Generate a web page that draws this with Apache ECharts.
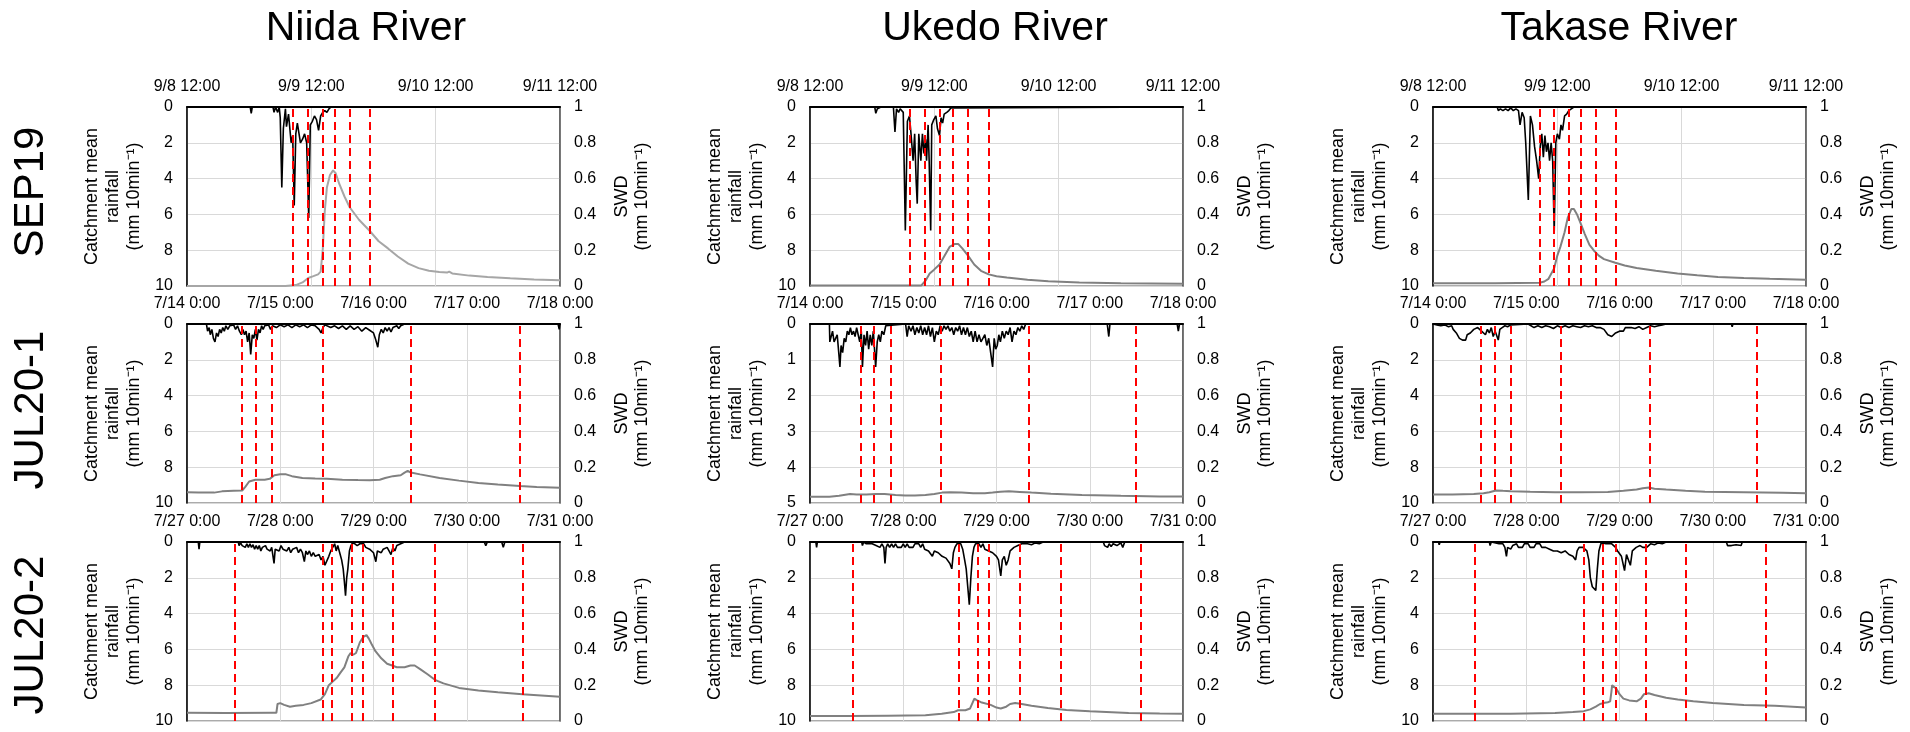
<!DOCTYPE html>
<html>
<head>
<meta charset="utf-8">
<script src="https://cdn.jsdelivr.net/npm/echarts@6/dist/echarts.min.js"></script>
<style>
  html, body { margin: 0; padding: 0; background: #fff; overflow: hidden; }
  #main { width: 1910px; height: 732px; }
</style>
</head>
<body>
<div id="main"></div>
<script>
// x values are hours from the first tick of each event
var rivers = ['Niida River', 'Ukedo River', 'Takase River'];
var events = ['SEP19', 'JUL20-1', 'JUL20-2'];
var ticksSep19 = ['9/8 12:00', '9/9 12:00', '9/10 12:00', '9/11 12:00'];
var ticksJul201 = ['7/14 0:00', '7/15 0:00', '7/16 0:00', '7/17 0:00', '7/18 0:00'];
var ticksJul202 = ['7/27 0:00', '7/28 0:00', '7/29 0:00', '7/30 0:00', '7/31 0:00'];

// ---- SEP19 ----
var rainNiidaSep = [[0,0],[12.2,0],[12.4,0.35],[12.6,0],[16.6,0],[16.8,0.3],[17.1,0],[17.5,0.3],[17.8,0],[18.0,0.6],[18.3,4.5],[18.6,1.2],[19.0,0.1],[19.2,1.1],[19.6,0.4],[20.1,2.0],[20.4,1.6],[20.7,5.5],[21.0,1.5],[21.3,0.9],[21.5,1.0],[21.9,2.0],[22.3,1.8],[22.7,1.5],[23.1,2.0],[23.5,6.2],[23.8,1.0],[24.2,0.8],[24.6,0.5],[25.0,0.7],[25.4,1.3],[25.8,0.5],[26.2,0.3],[26.6,0.2],[27.0,0.3],[27.4,0.1],[27.8,0],[72,0]];
var swdNiidaSep = [[0,0],[19,0],[21,0.005],[22.3,0.02],[23.4,0.045],[24.4,0.055],[25.3,0.065],[25.8,0.08],[26.2,0.2],[26.6,0.42],[27.0,0.55],[27.6,0.62],[28.2,0.646],[28.7,0.63],[29.4,0.57],[30.4,0.5],[31.4,0.44],[33.2,0.37],[35.2,0.31],[37,0.25],[38.8,0.21],[40.7,0.165],[42.7,0.125],[44.7,0.1],[46.7,0.085],[48.7,0.078],[50.2,0.075],[50.6,0.08],[51.2,0.07],[54.5,0.058],[58,0.05],[62.4,0.043],[67,0.037],[72,0.032]];
var cutNiidaSep = [20.5, 23.4, 26.2, 28.6, 31.4, 35.2];

var rainUkedoSep = [[0,0],[12.5,0],[12.7,0.35],[13.0,0.1],[13.3,0.2],[13.7,0],[16.1,0],[16.4,1.4],[16.7,0.1],[17.1,0.3],[17.4,0.1],[18.0,0.3],[18.4,6.9],[18.8,0.8],[19.2,0.5],[19.5,1.5],[19.9,3.0],[20.2,1.5],[20.5,4.2],[20.7,5.4],[21.0,1.5],[21.4,3.0],[21.7,1.5],[22.0,2.6],[22.3,1.8],[22.5,3.0],[22.8,1.0],[23.0,3.0],[23.3,6.9],[23.5,1.0],[23.9,0.7],[24.3,0.5],[24.6,1.2],[25.0,1.6],[25.3,0.6],[25.6,0.9],[25.9,0.4],[26.4,0.3],[26.8,0.2],[27.2,0.05],[27.4,0],[72,0]];
var swdUkedoSep = [[0,0.003],[21.5,0.003],[22.3,0.03],[23.1,0.07],[23.9,0.09],[25,0.12],[26,0.17],[27,0.22],[28,0.235],[28.6,0.235],[29.4,0.21],[30.5,0.17],[31.7,0.12],[33,0.085],[34.5,0.065],[36,0.055],[38,0.047],[42,0.035],[46,0.027],[52,0.02],[60,0.016],[72,0.012]];
var cutUkedoSep = [19.3, 22.2, 25.1, 27.5, 30.5, 34.5];

var rainTakaseSep = [[0,0],[12.4,0],[12.6,0.2],[13.0,0.1],[13.5,0.2],[14,0.1],[14.5,0.2],[15,0.05],[15.5,0.2],[16,0.1],[16.5,0.2],[16.8,1.0],[17.2,0.3],[17.6,0.6],[17.9,2.0],[18.4,5.2],[18.8,0.5],[19.2,1.0],[19.6,2.2],[20.0,3.0],[20.4,4.0],[20.7,2.2],[21.0,1.5],[21.3,2.8],[21.6,1.6],[21.9,2.5],[22.2,2.0],[22.5,3.0],[22.8,2.0],[23.1,3.0],[23.4,7.0],[23.7,2.0],[24.0,1.5],[24.4,1.8],[24.7,1.0],[25.0,1.3],[25.4,0.5],[25.8,0.4],[26.2,0.2],[26.7,0.1],[27.2,0],[72,0]];
var swdTakaseSep = [[0,0.015],[12,0.015],[20.6,0.018],[21.5,0.025],[22.3,0.04],[23.4,0.1],[24,0.17],[24.6,0.22],[25.4,0.3],[26.0,0.38],[26.7,0.43],[27.2,0.43],[27.8,0.4],[28.5,0.35],[29.3,0.29],[30.2,0.23],[31.0,0.2],[32,0.17],[33,0.15],[35.2,0.13],[37,0.115],[39.3,0.1],[43,0.085],[47.2,0.07],[51,0.06],[55,0.05],[60,0.044],[65,0.04],[72,0.035]];
var cutTakaseSep = [20.6, 23.4, 26.3, 28.5, 31.4, 35.2];

// ---- JUL20-1 ----
var rainNiidaJul1 = [[0,0],[5.0,0],[5.3,0.4],[5.7,0.2],[6.0,0.6],[6.4,0.3],[6.8,0.8],[7.2,1.0],[7.6,0.5],[8.0,0.7],[8.4,0.3],[8.8,0.5],[9.2,0.2],[9.6,0.4],[10.0,0.1],[10.5,0.3],[11.0,0.1],[11.5,0.2],[12,0.05],[12.5,0.3],[13,0.1],[13.5,0.4],[14,0.6],[14.4,0.3],[14.8,0.6],[15.2,0.4],[15.6,1.0],[16.0,0.5],[16.4,1.7],[16.8,0.6],[17.2,0.8],[17.6,0.3],[18,0.9],[18.4,0.3],[18.8,0.5],[19.2,0.1],[19.6,0.3],[20,0.1],[20.5,0.2],[21,0.05],[21.5,0.3],[22,0.1],[23,0.2],[24,0.05],[25,0.15],[26,0.05],[27,0.2],[28,0.05],[29,0.15],[30,0.05],[31,0.2],[32,0.05],[33,0.1],[34,0.3],[34.5,0.5],[35,0.2],[35.5,0.05],[37,0.2],[38,0.1],[39,0.25],[40,0.1],[41,0.3],[42,0.1],[43,0.3],[44,0.15],[45,0.4],[46,0.2],[47,0.35],[48,0.5],[48.6,0.9],[49.1,1.3],[49.5,0.6],[50,0.3],[50.5,0.5],[51,0.2],[51.5,0.4],[52,0.2],[52.5,0.45],[53,0.2],[53.5,0.3],[54,0.1],[54.5,0.25],[55,0.1],[55.5,0.2],[56,0],[95.5,0],[95.8,0.3],[96,0]];
var swdNiidaJul1 = [[0,0.06],[3,0.058],[7,0.058],[9,0.065],[12,0.068],[14.2,0.07],[15,0.09],[16,0.12],[17.6,0.13],[20,0.13],[21.3,0.135],[22.5,0.155],[24,0.16],[25.5,0.16],[27,0.15],[29.7,0.14],[33,0.137],[36,0.135],[40,0.13],[44,0.128],[47,0.127],[49.6,0.13],[51,0.14],[53,0.15],[55,0.155],[56,0.17],[56.8,0.18],[57.6,0.17],[60,0.16],[65,0.14],[70,0.125],[75,0.112],[80,0.103],[85.7,0.095],[90,0.09],[96,0.085]];
var cutNiidaJul1 = [14.2, 17.8, 21.8, 34.9, 57.6, 85.7];

var rainUkedoJul1 = [[0,0],[5.0,0],[5.1,0.5],[5.5,0.5],[5.8,0.2],[6.2,0.5],[6.6,0.5],[7.0,0.3],[7.4,0.8],[7.7,1.2],[8.0,0.6],[8.4,0.8],[8.8,0.4],[9.2,0.5],[9.6,0.2],[10.0,0.3],[10.4,0.1],[10.8,0.3],[11.2,0.2],[11.6,0.35],[12.0,0.1],[12.4,0.3],[12.8,0.5],[13.2,0.2],[13.5,1.2],[13.9,0.3],[14.3,0.6],[14.7,0.2],[15.1,0.7],[15.5,0.3],[15.9,0.6],[16.3,0.2],[16.9,1.2],[17.3,0.5],[17.7,0.3],[18.1,0.5],[18.5,0.2],[19.0,0.3],[19.5,0.05],[20,0],[24.6,0],[25.0,0.35],[25.4,0.05],[26,0.2],[26.5,0.05],[27,0.3],[27.5,0.1],[28,0.25],[28.5,0.05],[29,0.3],[29.5,0.1],[30,0.3],[30.5,0.05],[31,0.35],[31.5,0.1],[32,0.5],[32.5,0.2],[33,0.3],[33.5,0.05],[34,0.2],[34.5,0.05],[35,0.15],[35.5,0.05],[36,0.2],[36.5,0.1],[37,0.3],[37.5,0.1],[38,0.2],[38.5,0.05],[39,0.3],[39.5,0.1],[40,0.3],[40.5,0.1],[41,0.35],[41.5,0.2],[42,0.5],[42.5,0.2],[43,0.5],[43.5,0.3],[44,0.5],[44.5,0.4],[45,0.3],[45.5,0.6],[46,0.4],[46.5,0.8],[47.0,1.2],[47.4,0.4],[47.8,0.7],[48.2,0.6],[48.6,0.3],[49,0.5],[49.5,0.2],[50,0.4],[50.5,0.2],[51,0.3],[51.5,0.1],[52,0.5],[52.5,0.2],[53,0.3],[53.5,0.1],[54,0.2],[54.5,0.05],[55,0.15],[55.5,0],[76.5,0],[76.9,0.35],[77.2,0],[94.5,0],[94.8,0.2],[95.1,0],[96,0]];
var swdUkedoJul1 = [[0,0.035],[5,0.035],[7.5,0.04],[10.3,0.05],[12,0.048],[14.5,0.048],[17,0.05],[19.2,0.05],[22,0.045],[24.5,0.042],[27,0.042],[29.7,0.045],[32,0.05],[34,0.058],[36,0.06],[39,0.058],[42,0.055],[45,0.055],[47,0.058],[49,0.063],[51.2,0.065],[54,0.062],[57,0.058],[62,0.052],[70,0.045],[80,0.04],[90,0.037],[96,0.036]];
var cutUkedoJul1 = [13.0, 16.4, 20.7, 33.6, 56.2, 83.9];

var rainTakaseJul1 = [[0,0],[1,0.05],[2,0.1],[3,0.05],[4,0.15],[4.8,0.1],[5.2,0.3],[5.6,0.4],[6.0,0.5],[6.4,0.6],[6.8,0.8],[7.2,0.7],[7.6,0.9],[8.0,0.85],[8.4,0.9],[8.8,0.6],[9.2,0.7],[9.6,0.5],[10,0.4],[10.5,0.3],[11,0.35],[11.5,0.2],[12,0.3],[12.5,0.4],[13,0.3],[13.5,0.6],[14,0.3],[14.5,0.5],[15,0.2],[15.5,0.7],[16,0.4],[16.8,0.9],[17.2,0.3],[17.8,0.2],[18.5,0.1],[19.2,0.15],[20,0.05],[20.5,0],[24.5,0],[25,0.1],[26,0.2],[27,0.1],[28,0.2],[29,0.1],[30,0.15],[31,0.25],[32,0.1],[33,0.2],[34,0.1],[35,0.2],[36,0.1],[37,0.15],[38,0.2],[39,0.1],[40,0.15],[41,0.1],[42,0.2],[43,0.2],[44,0.3],[44.5,0.4],[45,0.6],[45.5,0.5],[46,0.7],[46.5,0.6],[47,0.5],[47.5,0.6],[48,0.4],[48.5,0.3],[49,0.4],[49.5,0.2],[50,0.3],[51,0.2],[52,0.25],[53,0.15],[54,0.3],[55,0.2],[56,0.1],[57,0.15],[58,0.1],[59,0.05],[60,0],[76.8,0],[77,0.15],[77.2,0],[94,0],[94.2,0.1],[94.4,0],[96,0]];
var swdTakaseJul1 = [[0,0.047],[5,0.047],[10.5,0.05],[13,0.055],[14.5,0.06],[16.2,0.07],[18,0.068],[20,0.066],[25,0.063],[31.4,0.06],[38,0.06],[45,0.062],[49,0.068],[52.4,0.075],[54,0.082],[55.6,0.086],[57,0.08],[60,0.075],[65,0.068],[70,0.063],[80,0.06],[90,0.057],[96,0.055]];
var cutTakaseJul1 = [12.4, 15.8, 20.1, 32.8, 55.7, 83.4];

// ---- JUL20-2 ----
var rainNiidaJul2 = [[0,0],[2.9,0],[3.1,0.4],[3.3,0],[13.2,0],[13.4,0.2],[13.8,0.05],[14.2,0.2],[14.6,0.1],[15,0.3],[15.4,0.1],[15.8,0.3],[16.2,0.1],[16.6,0.3],[17,0.15],[17.4,0.4],[17.8,0.2],[18.2,0.4],[18.6,0.2],[19,0.5],[19.4,0.3],[19.8,0.4],[20.2,0.2],[20.6,0.4],[21,0.3],[21.4,0.5],[21.8,0.3],[22.2,0.4],[22.4,1.2],[22.7,0.4],[23.2,0.3],[23.7,0.5],[24.2,0.2],[24.7,0.4],[25.2,0.3],[25.7,0.5],[26.2,0.3],[26.7,0.6],[27.2,0.4],[27.7,0.5],[28.2,0.3],[28.7,0.6],[29.2,0.4],[29.7,0.6],[30.2,1.1],[30.6,0.5],[31,0.7],[31.5,0.5],[32,0.8],[32.5,0.6],[33,0.8],[33.5,0.9],[34,0.7],[34.5,1.0],[35,0.8],[35.5,1.3],[36,1.4],[36.5,0.8],[37,0.5],[37.5,0.3],[38,0.1],[38.4,0.5],[38.8,0.2],[39.3,0.6],[39.8,1.0],[40.2,1.5],[40.5,2.2],[40.8,3.0],[41.1,2.0],[41.4,1.5],[41.8,0.5],[42.2,0.2],[42.6,0.05],[43.2,0.1],[43.8,0.2],[44.5,0.1],[45,0.2],[45.5,0.1],[46,0.3],[46.5,0.2],[47,0.4],[47.5,0.3],[48,0.6],[48.6,1.1],[49,0.5],[49.5,0.4],[50,0.6],[50.5,0.4],[51,0.5],[51.5,0.3],[52,0.5],[52.5,0.7],[53,0.3],[53.5,0.5],[54,0.2],[54.5,0.3],[55,0.1],[55.5,0.2],[56,0],[76.5,0],[76.9,0.2],[77.3,0],[81,0],[81.4,0.3],[81.8,0],[96,0]];
var swdNiidaJul2 = [[0,0.046],[10,0.045],[22,0.046],[23,0.046],[23.3,0.095],[24,0.1],[25,0.09],[26.5,0.08],[28,0.085],[30,0.09],[32,0.1],[34.4,0.12],[35.5,0.15],[36.5,0.2],[37.5,0.22],[38.5,0.24],[39.5,0.27],[40.5,0.3],[41.5,0.36],[42.1,0.38],[42.8,0.37],[43.5,0.38],[44.5,0.44],[45.4,0.47],[46.2,0.48],[46.8,0.46],[47.5,0.43],[48.5,0.39],[50,0.35],[51.5,0.32],[52.8,0.31],[54,0.3],[56,0.3],[57.5,0.31],[58.6,0.31],[60,0.29],[62,0.26],[63.8,0.23],[66,0.21],[70,0.185],[75,0.17],[80,0.16],[86.3,0.15],[96,0.135]];
var cutNiidaJul2 = [12.2, 34.9, 37.3, 42.3, 45.3, 53.0, 63.8, 86.3];

var rainUkedoJul2 = [[0,0],[1.5,0],[1.7,0.3],[1.9,0],[13.3,0],[13.5,0.2],[13.8,0],[14.5,0.1],[15,0],[16,0.1],[16.5,0],[17,0.2],[17.5,0.1],[18,0.3],[18.5,0.1],[19,0.3],[19.3,1.2],[19.6,0.3],[20,0.1],[20.5,0.3],[21,0.1],[21.5,0.3],[22,0.1],[22.5,0.3],[23,0.2],[23.5,0.3],[24,0.1],[24.5,0.3],[25,0.1],[25.5,0.3],[26,0.2],[26.5,0.3],[27,0.1],[27.5,0.2],[28,0.1],[28.5,0.3],[29,0.1],[29.5,0.4],[30,0.3],[30.5,0.5],[31,0.4],[31.5,0.8],[32,0.5],[32.5,0.4],[33,0.6],[33.5,0.5],[34,0.8],[34.5,0.7],[35,0.9],[35.5,1.0],[36,1.2],[36.5,1.5],[36.9,0.6],[37.3,0.3],[37.8,0.1],[38.3,0.05],[38.8,0.1],[39.3,0.4],[39.8,1.0],[40.2,1.5],[40.6,2.5],[41.0,3.5],[41.4,2.0],[41.8,0.8],[42.2,0.3],[42.6,0.1],[43,0.2],[43.5,0.1],[44,0.3],[44.5,0.1],[45,0.4],[45.5,0.3],[46,0.5],[46.5,0.4],[47,0.6],[47.5,0.5],[48,0.8],[48.5,1.0],[49.1,1.9],[49.5,1.0],[50,0.8],[50.5,1.3],[51,1.0],[51.5,0.5],[52,0.6],[52.5,0.3],[53,0.4],[53.5,0.2],[54,0.3],[54.5,0.1],[55,0.2],[56,0.1],[57,0.15],[58,0.05],[59,0.1],[60,0],[75.5,0],[75.8,0.2],[76.2,0.1],[76.6,0.3],[77,0.1],[77.5,0.25],[78,0.1],[79,0.2],[80,0.05],[80.5,0.3],[81,0],[96,0]];
var swdUkedoJul2 = [[0,0.028],[10,0.028],[20,0.03],[29.7,0.032],[33.9,0.04],[37,0.05],[38.1,0.06],[40,0.06],[41.2,0.07],[41.8,0.1],[42.3,0.125],[43,0.115],[44,0.105],[46.5,0.09],[48,0.075],[49.1,0.07],[50.5,0.08],[51.5,0.095],[52.8,0.1],[54.5,0.095],[57,0.085],[61.2,0.072],[66,0.062],[72,0.055],[82,0.045],[90,0.042],[96,0.04]];
var cutUkedoJul2 = [11.0, 38.2, 43.2, 46.1, 53.9, 64.6, 85.1];

var rainTakaseJul2 = [[0,0],[1.4,0],[1.6,0.15],[1.8,0],[14.5,0],[14.7,0.2],[15,0],[17,0.1],[17.5,0.2],[18,0.1],[18.5,0.3],[18.9,0.8],[19.2,0.3],[19.6,0.2],[20,0.4],[20.5,0.2],[21,0.3],[21.5,0.1],[22,0.3],[22.5,0.2],[23,0.3],[23.5,0.1],[24,0.2],[24.5,0.1],[25,0.3],[25.5,0.2],[26,0.3],[26.5,0.1],[27,0.2],[27.5,0.1],[28,0.3],[28.5,0.2],[29,0.3],[29.5,0.2],[30,0.4],[30.5,0.3],[31,0.5],[31.5,0.4],[32,0.5],[32.5,0.4],[33,0.6],[33.5,0.5],[34,0.5],[34.5,0.6],[35,0.7],[35.5,0.6],[36,0.8],[36.7,1.0],[37.1,0.5],[37.6,0.3],[38.1,0.2],[38.6,0.3],[39.1,0.2],[39.6,0.5],[40.1,1.0],[40.5,2.0],[41,2.5],[41.5,2.6],[41.9,2.7],[42.3,1.5],[42.7,0.5],[43.2,0.1],[43.8,0.05],[44.5,0.1],[45,0.05],[46,0.1],[46.5,0.2],[47,0.3],[47.5,0.5],[48,0.4],[48.5,0.8],[49.3,1.6],[49.8,0.7],[50.3,1.0],[50.8,1.3],[51.3,0.5],[51.8,0.4],[52.3,0.3],[52.8,0.4],[53.3,0.2],[54,0.3],[54.5,0.2],[55,0.3],[56,0.1],[57,0.15],[58,0.05],[59,0.1],[60,0],[75.5,0],[75.8,0.2],[76.3,0.1],[76.8,0.2],[77.3,0.1],[78,0.15],[78.5,0.05],[79.3,0.2],[79.6,0],[96,0]];
var swdTakaseJul2 = [[0,0.04],[10,0.04],[20,0.041],[31.4,0.045],[36,0.05],[38.8,0.055],[40.5,0.065],[41.9,0.08],[43,0.095],[43.8,0.1],[45,0.105],[45.6,0.11],[45.9,0.16],[46.1,0.2],[46.6,0.195],[47.2,0.18],[48,0.15],[49,0.125],[50.5,0.115],[52.4,0.11],[53.5,0.125],[54.3,0.15],[54.8,0.16],[55.5,0.155],[57,0.145],[60,0.13],[63,0.12],[67,0.11],[72,0.1],[80,0.09],[88,0.085],[96,0.075]];
var cutTakaseJul2 = [10.7, 38.8, 43.8, 47.0, 54.8, 65.1, 85.6];

var panels = [
  {row: 0, col: 0, ticks: ticksSep19, rainMax: 10, rain: rainNiidaSep, swd: swdNiidaSep, cuts: cutNiidaSep, swdColor: '#a6a6a6'},
  {row: 0, col: 1, ticks: ticksSep19, rainMax: 10, rain: rainUkedoSep, swd: swdUkedoSep, cuts: cutUkedoSep},
  {row: 0, col: 2, ticks: ticksSep19, rainMax: 10, rain: rainTakaseSep, swd: swdTakaseSep, cuts: cutTakaseSep},
  {row: 1, col: 0, ticks: ticksJul201, rainMax: 10, rain: rainNiidaJul1, swd: swdNiidaJul1, cuts: cutNiidaJul1},
  {row: 1, col: 1, ticks: ticksJul201, rainMax: 5, rain: rainUkedoJul1, swd: swdUkedoJul1, cuts: cutUkedoJul1},
  {row: 1, col: 2, ticks: ticksJul201, rainMax: 10, rain: rainTakaseJul1, swd: swdTakaseJul1, cuts: cutTakaseJul1},
  {row: 2, col: 0, ticks: ticksJul202, rainMax: 10, rain: rainNiidaJul2, swd: swdNiidaJul2, cuts: cutNiidaJul2},
  {row: 2, col: 1, ticks: ticksJul202, rainMax: 10, rain: rainUkedoJul2, swd: swdUkedoJul2, cuts: cutUkedoJul2},
  {row: 2, col: 2, ticks: ticksJul202, rainMax: 10, rain: rainTakaseJul2, swd: swdTakaseJul2, cuts: cutTakaseJul2}
];

var colLeft = [187, 810, 1433];
var rowTop = [107, 324, 542];
var plotW = 373, plotH = 179;
var font = '"Liberation Sans", Arial, sans-serif';

var grids = [], xAxes = [], yAxes = [], series = [];
panels.forEach(function (p, i) {
  var hours = (p.ticks.length - 1) * 24;
  grids.push({
    left: colLeft[p.col], top: rowTop[p.row], width: plotW, height: plotH,
    show: true, borderColor: '#595959', borderWidth: 1.2, backgroundColor: 'transparent'
  });
  xAxes.push({
    gridIndex: i, type: 'value', position: 'top', min: 0, max: hours, interval: 24,
    axisLine: {show: true, onZero: false, lineStyle: {color: '#000', width: 2}},
    axisTick: {show: false},
    splitLine: {show: true, lineStyle: {color: '#d9d9d9', width: 1}},
    axisLabel: {
      margin: 12, color: '#000', fontSize: 16, fontFamily: font,
      formatter: (function (t) { return function (v) { return t[Math.round(v / 24)] || ''; }; })(p.ticks)
    }
  });
  yAxes.push({
    gridIndex: i, type: 'value', position: 'left', inverse: true, min: 0, max: p.rainMax,
    interval: p.rainMax / 5,
    name: 'Catchment mean\nrainfall\n(mm 10min\u207B\u00B9)',
    nameLocation: 'middle', nameRotate: 90, nameGap: 42,
    nameTextStyle: {color: '#000', fontSize: 18, fontFamily: font, lineHeight: 21, align: 'center'},
    axisLine: {show: true, onZero: false, lineStyle: {color: '#000', width: 1.5}},
    axisTick: {show: false},
    splitLine: {show: true, lineStyle: {color: '#d9d9d9', width: 1}},
    axisLabel: {margin: 14, color: '#000', fontSize: 16, fontFamily: font}
  });
  yAxes.push({
    gridIndex: i, type: 'value', position: 'right', min: 0, max: 1, interval: 0.2,
    name: 'SWD\n(mm 10min\u207B\u00B9)',
    nameLocation: 'middle', nameRotate: 90, nameGap: 52,
    nameTextStyle: {color: '#000', fontSize: 18, fontFamily: font, lineHeight: 20, align: 'center'},
    axisLine: {show: true, onZero: false, lineStyle: {color: '#595959', width: 1.5}},
    axisTick: {show: false},
    splitLine: {show: false},
    axisLabel: {margin: 14, color: '#000', fontSize: 16, fontFamily: font}
  });
  series.push({
    type: 'line', xAxisIndex: i, yAxisIndex: 2 * i + 1, data: p.swd,
    symbol: 'none', z: 2,
    lineStyle: {color: p.swdColor || '#808080', width: 2}
  });
  series.push({
    type: 'line', xAxisIndex: i, yAxisIndex: 2 * i + 1, data: [],
    symbol: 'none', z: 3,
    markLine: {
      silent: true, symbol: ['none', 'none'], label: {show: false},
      lineStyle: {color: '#ff0000', type: [8, 5], width: 2},
      data: p.cuts.map(function (c) { return {xAxis: c}; })
    }
  });
  series.push({
    type: 'line', xAxisIndex: i, yAxisIndex: 2 * i, data: p.rain,
    symbol: 'none', z: 4,
    lineStyle: {color: '#000', width: 1.6}
  });
});

var titleCenter = [366, 995, 1619];
var rowCenter = [192, 410, 635];
var graphics = rivers.map(function (r, c) {
  return {
    type: 'text', x: titleCenter[c], y: 29,
    style: {text: r, fontSize: 41, fontFamily: font, fill: '#000', textAlign: 'center', textVerticalAlign: 'middle'}
  };
}).concat(events.map(function (e, r) {
  return {
    type: 'text', x: 31, y: rowCenter[r], rotation: Math.PI / 2,
    style: {text: e, fontSize: 42, fontFamily: font, fill: '#000', textAlign: 'center', textVerticalAlign: 'middle'}
  };
}));

var chart = echarts.init(document.getElementById('main'));
chart.setOption({
  animation: false,
  backgroundColor: '#fff',
  graphic: graphics,
  grid: grids,
  xAxis: xAxes,
  yAxis: yAxes,
  series: series
});
</script>
</body>
</html>
